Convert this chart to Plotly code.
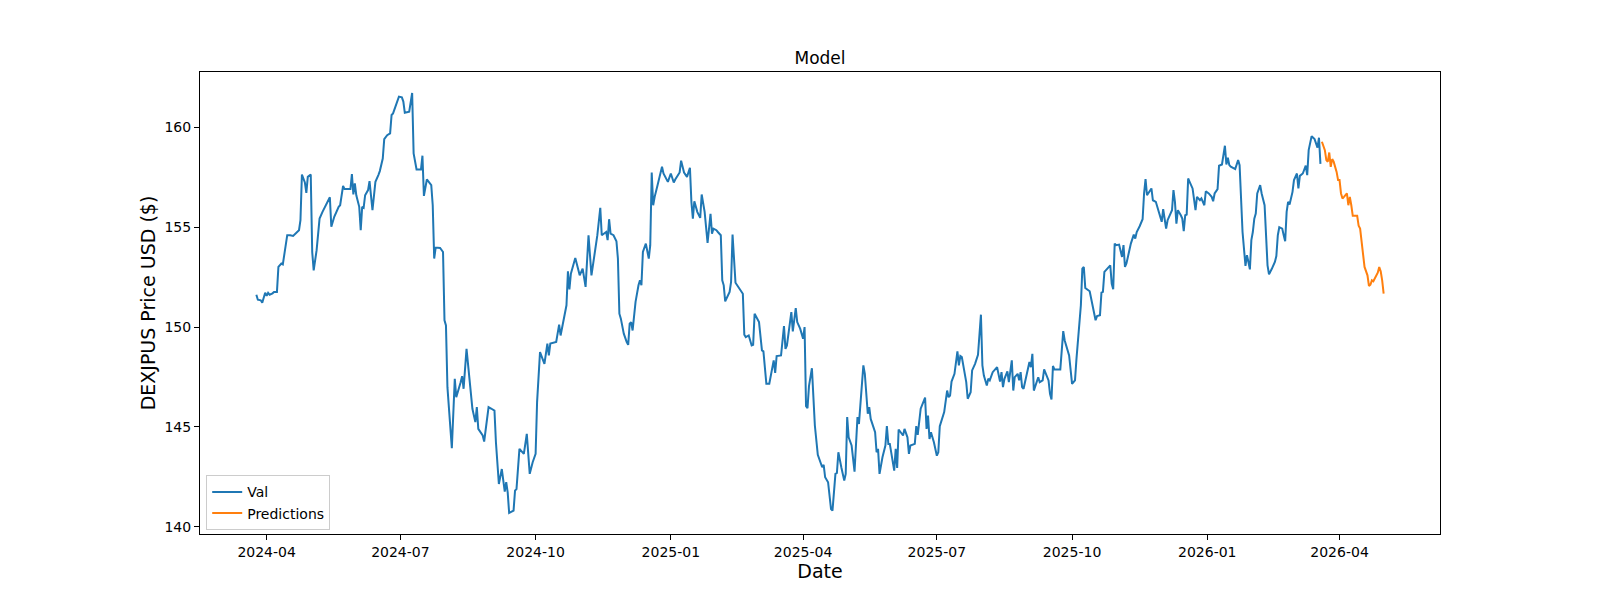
import pandas as pd
import plotly.graph_objects as go

base_date = "2024-04-01"

val_days_2024 = [-7, -6, -4, -3, -1, 0, 1, 2, 4, 5, 7, 8, 10, 11, 14, 16, 18, 20, 22, 23, 24, 26, 27, 28, 30, 31, 32, 34, 36, 38,
                 41, 43, 44, 46, 49, 50, 52, 53, 57, 58, 59, 60, 61, 63, 64, 65, 66, 67, 69, 70, 72, 74, 76, 77, 79, 80, 82, 84, 85, 86,
                 90, 92, 93, 94, 97, 99, 100, 102, 105, 106, 107, 109, 112, 113, 114, 115, 118,
                 120, 121, 122, 123, 126, 128, 129, 132, 133, 134, 136, 138, 140, 142, 143, 144, 147, 148, 149, 151, 153, 155, 156, 158,
                 160, 162, 163, 164, 165, 168, 169, 170, 172, 175, 177, 179, 181, 183, 184, 186, 189, 191, 192, 193, 197, 199, 200, 202,
                 204, 205, 206, 207, 210, 213, 215, 217, 219, 221, 223, 225, 227, 228, 231, 232, 233, 234, 236, 238, 239, 240, 241, 243,
                 245, 246, 247, 248, 249, 251, 253, 254, 255, 256, 258, 260, 261, 262, 263, 264, 266, 269, 270, 273]
val_values_2024 = [151.62, 151.37, 151.34, 151.22, 151.72, 151.56, 151.71, 151.62, 151.69, 151.76, 151.76, 153.01, 153.18, 153.14,
                   154.60, 154.60, 154.56, 154.71, 154.85, 155.35, 157.64, 157.24, 156.72, 157.52, 157.64, 153.76, 152.84, 153.85,
                   155.43, 155.77, 156.19, 156.50, 155.02, 155.52, 156.02, 156.10, 157.07, 156.91, 156.91, 157.66, 156.64, 157.19,
                   156.60, 156.02, 154.85, 156.02, 155.97, 156.60, 156.86, 157.31, 155.85, 157.27, 157.61, 157.81, 158.44, 159.41,
                   159.61, 159.70, 160.62, 160.70, 161.54, 161.50, 161.29, 160.73, 160.78, 161.72, 158.69, 157.89, 157.89, 158.58,
                   156.57, 157.39, 157.11, 156.10, 153.43, 153.98, 153.96,
                   153.76, 150.34, 150.08, 146.99, 143.93, 147.41, 146.49, 147.24, 147.54, 146.91, 148.91, 147.41, 145.91, 145.24,
                   145.99, 144.90, 144.57, 144.27, 144.82, 145.99, 145.91, 145.82, 144.23, 142.14, 142.89, 141.76, 142.23, 141.72,
                   140.69, 140.81, 141.81, 141.89, 143.90, 143.65, 144.65, 142.65, 143.23, 143.65, 146.24, 148.75, 148.16, 149.17,
                   148.58, 149.17, 149.25, 150.12, 149.58, 150.42, 151.09, 152.79, 151.89, 152.67, 153.46, 152.59, 152.93, 152.01,
                   154.60, 152.59, 153.60, 154.60, 155.97, 154.60, 154.76, 154.35, 155.40, 154.68, 154.60, 154.30, 153.43, 150.67,
                   150.42, 149.67, 149.25, 149.11, 150.17, 150.25, 149.83, 151.26, 152.09, 152.34, 152.09, 153.76, 154.18, 153.43,
                   154.10, 157.74, 156.10, 156.52, 157.11, 158.03, 157.69, 157.27]

val_days_2025 = [275, 277, 278, 281, 282, 284, 286, 288, 289, 290, 291, 293, 295, 296, 298, 299, 300, 302, 303, 304, 306, 307, 309,
                 310, 311, 312, 315, 316, 317, 319, 324, 325, 326, 328, 330, 331, 332, 335, 337, 338, 340, 342, 345, 346, 347, 350,
                 351, 352, 353, 354, 357, 358, 360, 361, 363, 365, 366, 367, 368, 369, 371, 372, 373, 375, 377,
                 378, 379, 380, 382, 383, 384, 385, 387, 388, 389, 391, 393, 394, 395, 396, 398, 400, 402, 403, 406, 407, 409, 410,
                 411, 414, 415, 416, 417, 419, 421, 422, 423, 424, 427, 428, 429, 430, 433, 434, 436, 437, 438, 441, 442, 443, 445,
                 448, 449, 450, 451, 452, 454, 456, 457, 458, 461, 463, 464, 465, 466, 468, 470, 471, 472, 473, 475, 476, 477, 479,
                 480, 482, 484, 485, 486, 487, 488, 490, 491, 492, 494, 497, 498, 499, 500, 501, 502, 504, 505, 506,
                 507, 508, 509, 511, 512, 513, 514, 515, 517, 519, 520, 521, 522, 524, 525, 526, 528, 529, 531, 532, 533, 534, 535,
                 536, 540, 542, 543, 546, 548, 550, 551, 554, 555, 556, 557, 560, 564, 565, 567, 568, 569, 570, 574, 575, 576, 577,
                 578, 580, 582, 583, 584, 585, 588, 590, 591, 592, 594, 596, 597, 598, 599, 601, 602, 603, 605, 607, 609, 610, 612,
                 613, 616, 617, 618, 619, 620, 622, 623, 624, 625, 626, 627, 628, 630, 632, 633, 635, 636]
val_values_2025 = [157.69, 157.24, 157.39, 157.74, 158.33, 157.74, 157.52, 157.97, 156.27, 155.43, 156.30, 155.77, 155.47, 156.64,
                   155.77, 154.93, 154.21, 155.67, 154.68, 154.93, 154.85, 154.76, 154.60, 152.34, 152.09, 151.29, 151.76, 152.26,
                   154.63, 152.22, 151.67, 149.62, 149.50, 149.58, 149.08, 149.11, 150.67, 150.25, 148.83, 148.78, 147.16, 147.16,
                   148.33, 147.71, 148.55, 148.58, 149.42, 150.05, 148.91, 149.08, 150.75, 149.78, 150.95, 150.25, 149.92, 149.42,
                   150.00, 146.04, 145.94, 147.04, 147.94, 146.57, 145.07, 143.60, 143.15,
                   142.98, 143.10, 142.48, 142.23, 141.56, 140.89, 140.81, 142.65, 142.70, 143.73, 142.98, 142.31, 142.65, 145.49,
                   144.48, 144.07, 142.76, 145.49, 145.15, 148.08, 147.66, 145.66, 145.99, 145.40, 144.74, 143.73, 143.90, 142.65,
                   143.48, 144.07, 145.04, 144.15, 144.15, 142.81, 143.90, 142.95, 144.87, 144.57, 144.90, 144.48, 143.65, 144.07,
                   144.15, 145.04, 144.60, 145.91, 146.47, 144.90, 145.57, 144.40, 144.73, 144.23, 143.56, 143.73, 145.04, 145.74,
                   146.82, 146.49, 146.57, 147.27, 147.66, 148.78, 148.08, 148.55, 148.50, 147.78, 147.24, 146.41, 146.74, 147.83,
                   148.16, 148.61, 149.58, 150.62, 148.08, 147.57, 147.07, 147.41, 147.33, 147.74, 147.99, 147.66, 147.27, 147.74,
                   146.99, 147.41, 147.78, 147.24, 147.83,
                   148.33, 146.82, 147.49, 147.66, 147.33, 147.74, 146.99, 146.91, 147.57, 148.25, 147.99, 148.66, 146.82, 147.33,
                   147.49, 147.24, 147.33, 147.88, 147.57, 147.33, 146.66, 146.37, 148.05, 147.88, 147.88, 149.80, 149.33, 148.58,
                   147.16, 147.33, 148.41, 151.09, 152.93, 153.01, 151.96, 151.79, 150.34, 150.55, 150.59, 151.72, 151.76, 152.76,
                   153.09, 152.17, 151.89, 154.18, 154.10, 154.13, 153.51, 154.10, 153.01, 153.18, 154.18, 154.63, 154.43, 154.76,
                   155.05, 155.40, 156.69, 157.41, 156.60, 156.80, 156.94, 156.35, 156.27, 155.77, 155.27, 155.90, 154.93, 155.35,
                   155.85, 156.86, 156.27, 155.18, 155.85, 155.60, 155.43, 154.80, 155.60, 155.63, 157.44, 157.27, 156.94, 155.85,
                   156.52, 156.35, 156.44]

val_days_2026 = [638, 639, 641, 643, 644, 645, 647, 648, 650, 652, 653, 654, 655, 656, 659, 661, 662, 663, 664, 666, 667, 668, 669,
                 670, 671, 672, 673, 674, 676, 677, 679, 681, 682, 684, 686, 687, 688, 689, 691, 692, 693, 694, 695, 696, 698, 699,
                 701, 702, 703, 705, 706, 707, 708, 709, 711, 713, 714, 715, 716, 717]
val_values_2026 = [156.10, 156.80, 156.69, 156.52, 156.30, 156.69, 156.91, 158.08, 158.14, 159.08, 158.14, 158.48, 158.11, 158.03,
                   157.91, 158.36, 158.11, 156.60, 154.76, 153.06, 153.60, 153.26, 152.89, 154.35, 154.76, 155.43, 155.68, 156.69,
                   157.11, 156.69, 156.10, 153.09, 152.64, 152.93, 153.26, 153.56, 154.60, 155.00, 154.93, 154.60, 154.30, 155.77,
                   156.27, 156.14, 156.77, 157.36, 157.69, 156.94, 157.57, 157.69, 157.86, 158.08, 157.61, 158.86, 159.56, 159.41,
                   159.20, 158.98, 159.48, 158.17]

pred_days = [718, 720, 721, 722, 723, 724, 725, 726, 727, 728, 729, 730, 731, 732, 733, 735, 736, 737, 738, 739, 742, 743, 744, 745,
             746, 747, 749, 750, 751, 752, 753, 754, 755, 756, 757, 758, 759, 760]
pred_values = [159.28, 158.86, 158.36, 158.28, 158.74, 158.02, 158.41, 158.28, 158.02, 157.77, 157.36, 157.36, 156.69, 156.44,
               156.52, 156.69, 156.10, 156.52, 156.10, 155.57, 155.57, 155.07, 154.93, 154.26, 153.46, 153.01, 152.59, 152.06,
               152.12, 152.34, 152.29, 152.42, 152.56, 152.72, 153.01, 152.79, 152.34, 151.67]

x_tick_dates = ["2024-04-01", "2024-07-01", "2024-10-01", "2025-01-01", "2025-04-01", "2025-07-01", "2025-10-01", "2026-01-01", "2026-04-01"]
x_tick_labels = ["2024-04", "2024-07", "2024-10", "2025-01", "2025-04", "2025-07", "2025-10", "2026-01", "2026-04"]
y_ticks = [140, 145, 150, 155, 160]

val_days = val_days_2024 + val_days_2025 + val_days_2026
val_values = val_values_2024 + val_values_2025 + val_values_2026

base = pd.Timestamp(base_date)
val_dates = base + pd.to_timedelta(val_days, unit="D")
pred_dates = base + pd.to_timedelta(pred_days, unit="D")

FONT = "DejaVu Sans"

fig = go.Figure()
fig.add_trace(go.Scatter(x=val_dates, y=val_values, mode="lines", name="Val",
                         line=dict(color="#1f77b4", width=2)))
fig.add_trace(go.Scatter(x=pred_dates, y=pred_values, mode="lines", name="Predictions",
                         line=dict(color="#ff7f0e", width=2)))

# matplotlib-like 5% margins
all_dates = list(val_dates) + list(pred_dates)
all_vals = val_values + pred_values
xmin, xmax = min(all_dates), max(all_dates)
xpad = (xmax - xmin) * 0.05
ymin, ymax = min(all_vals), max(all_vals)
ypad = (ymax - ymin) * 0.05

fig.update_layout(
    width=1600, height=600,
    paper_bgcolor="white", plot_bgcolor="white",
    margin=dict(l=192, r=168, t=64, b=74, autoexpand=False),
    font=dict(family=FONT, size=14, color="black"),
    title=dict(text="Model", x=0.5, xref="paper", xanchor="center",
               y=1 - 50 / 600, yref="container", yanchor="middle",
               font=dict(family=FONT, size=17, color="black")),
    showlegend=True,
    legend=dict(x=0.005, y=0.008, xanchor="left", yanchor="bottom",
                bgcolor="rgba(255,255,255,0.8)", bordercolor="#cccccc", borderwidth=1,
                font=dict(family=FONT, size=14, color="black"), itemwidth=30,
                tracegroupgap=0),
)
fig.update_xaxes(
    range=[xmin - xpad, xmax + xpad],
    tickmode="array", tickvals=x_tick_dates, ticktext=x_tick_labels,
    showgrid=False, zeroline=False,
    showline=True, linecolor="black", linewidth=1, mirror=True,
    ticks="outside", ticklen=5, tickwidth=1, tickcolor="black",
    tickfont=dict(family=FONT, size=14, color="black"),
    title=dict(text="Date", font=dict(family=FONT, size=19, color="black"), standoff=4),
)
fig.update_yaxes(
    range=[ymin - ypad, ymax + ypad],
    tickmode="array", tickvals=y_ticks, ticktext=[str(v) for v in y_ticks],
    showgrid=False, zeroline=False,
    showline=True, linecolor="black", linewidth=1, mirror=True,
    ticks="outside", ticklen=5, tickwidth=1, tickcolor="black",
    tickfont=dict(family=FONT, size=14, color="black"),
    title=dict(text="DEXJPUS Price USD ($)", font=dict(family=FONT, size=19, color="black"), standoff=3),
)

fig.write_html("out.html")
